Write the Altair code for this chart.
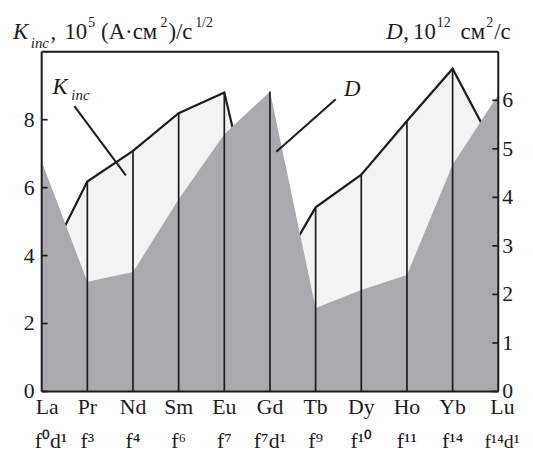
import altair as alt
import pandas as pd

# ---- data ----
elements = ["La", "Pr", "Nd", "Sm", "Eu", "Gd", "Tb", "Dy", "Ho", "Yb", "Lu"]
configs = ["f⁰d¹", "f³", "f⁴", "f⁶", "f⁷", "f⁷d¹", "f⁹", "f¹⁰", "f¹¹", "f¹⁴", "f¹⁴d¹"]
kinc = [3.5, 6.18, 7.08, 8.19, 8.80, 3.1, 5.42, 6.38, 7.96, 9.50, 6.97]   # 10^5 (A·см²)/с^1/2
diff = [4.74, 2.26, 2.46, 3.96, 5.30, 6.18, 1.72, 2.09, 2.40, 4.67, 6.12]  # 10^12 см²/с
left_ticks = [0, 2, 4, 6, 8]
right_ticks = [0, 1, 2, 3, 4, 5, 6]
LEFT_MAX, RIGHT_MAX = 10, 7

# annotation leader lines (data coordinates: index, left-axis value)
k_leader = {"x": [0.716], "y": [8.40], "x2": [1.844], "y2": [6.36]}
d_leader = {"x": [6.44], "y": [8.60], "x2": [5.14], "y2": [7.06]}

SERIF = "Liberation Serif"
INK = "#1c1c1c"
LIGHT = "#f3f3f3"
DARK = "#a9aaae"
W, H = 461, 343
R = LEFT_MAX / RIGHT_MAX

df = pd.DataFrame({"idx": list(range(len(elements))), "el": elements, "cfg": configs,
                   "kinc": kinc, "d": diff})

X = alt.Scale(domain=[0, 10], nice=False, zero=False)
Y = alt.Scale(domain=[0, LEFT_MAX], nice=False)
xenc = alt.X("idx:Q", scale=X, axis=None)

base = alt.Chart(df).transform_calculate(
    d_l=f"datum.d * {R}", top=f"max(datum.kinc, datum.d * {R})")

area_k = base.mark_area(color=LIGHT).encode(
    x=xenc, y=alt.Y("kinc:Q", scale=Y, axis=None))
line_k = base.mark_line(color=INK, strokeWidth=2.2).encode(
    x=xenc, y=alt.Y("kinc:Q", scale=Y, axis=None))
area_d = base.mark_area(color=DARK).encode(
    x=xenc, y=alt.Y("d_l:Q", scale=Y, axis=None))
rules = base.transform_filter("datum.idx > 0 && datum.idx < 10").mark_rule(
    color=INK, strokeWidth=1.7).encode(
    x=xenc, y=alt.Y("top:Q", scale=Y, axis=None), y2=alt.Y2Datum(0))

lt = alt.Chart(pd.DataFrame({"v": left_ticks}))
rt = alt.Chart(pd.DataFrame({"v": right_ticks})).transform_calculate(vl=f"datum.v * {R}")
ticks_l = lt.mark_rule(color=INK, strokeWidth=1.7).encode(
    y=alt.Y("v:Q", scale=Y, axis=None), x=alt.value(0), x2=alt.value(6))
labels_l = lt.mark_text(font=SERIF, fontSize=22, align="right", baseline="middle", color=INK,
                        dx=-7).encode(
    y=alt.Y("v:Q", scale=Y, axis=None), x=alt.value(0), text="v:N")
ticks_r = rt.mark_rule(color=INK, strokeWidth=1.7).encode(
    y=alt.Y("vl:Q", scale=Y, axis=None), x=alt.value(W - 6), x2=alt.value(W))
labels_r = rt.mark_text(font=SERIF, fontSize=22, align="left", baseline="middle", color=INK,
                        dx=4).encode(
    y=alt.Y("vl:Q", scale=Y, axis=None), x=alt.value(W), text="v:N")

one = pd.DataFrame({"a": [0]})
frame = [
    alt.Chart(one).mark_rule(color=INK, strokeWidth=2).encode(
        x=alt.value(0), x2=alt.value(W), y=alt.value(0)),
    alt.Chart(one).mark_rule(color=INK, strokeWidth=2).encode(
        x=alt.value(0), x2=alt.value(W), y=alt.value(H)),
    alt.Chart(one).mark_rule(color=INK, strokeWidth=2).encode(
        x=alt.value(0), y=alt.value(0), y2=alt.value(H)),
    alt.Chart(one).mark_rule(color=INK, strokeWidth=2).encode(
        x=alt.value(W), y=alt.value(0), y2=alt.value(H)),
    # invisible spacer that reserves room above the titles
    alt.Chart(one).mark_rule(color="white", strokeWidth=1, strokeOpacity=0).encode(
        x=alt.value(0), x2=alt.value(2), y=alt.value(-36.5)),
]

def lead(dct):
    return alt.Chart(pd.DataFrame(dct)).mark_rule(color=INK, strokeWidth=2).encode(
        x=alt.X("x:Q", scale=X, axis=None), y=alt.Y("y:Q", scale=Y, axis=None),
        x2="x2:Q", y2="y2:Q")

def dtext(s, xv, yv, size=23, italic=True):
    return alt.Chart(pd.DataFrame({"x": [xv], "y": [yv], "t": [s]})).mark_text(
        font=SERIF, fontSize=size, fontStyle="italic" if italic else "normal",
        align="left", baseline="alphabetic", color=INK).encode(
        x=alt.X("x:Q", scale=X, axis=None), y=alt.Y("y:Q", scale=Y, axis=None), text="t:N")

def ptext(s, xp, yp, size=23, italic=False):
    return alt.Chart(pd.DataFrame({"t": [s]})).mark_text(
        font=SERIF, fontSize=size, fontStyle="italic" if italic else "normal",
        align="left", baseline="alphabetic", color=INK).encode(
        x=alt.value(xp), y=alt.value(yp), text="t:N")

def xlabels(field, ypix, dx_first, dx_last, size_last=22):
    mid = base.transform_filter("datum.idx > 0 && datum.idx < 10").mark_text(
        font=SERIF, fontSize=22, align="center", baseline="alphabetic", color=INK).encode(
        x=xenc, y=alt.value(ypix), text=f"{field}:N")
    first = base.transform_filter("datum.idx == 0").mark_text(
        font=SERIF, fontSize=22, align="left", baseline="alphabetic", color=INK, dx=dx_first).encode(
        x=xenc, y=alt.value(ypix), text=f"{field}:N")
    last = base.transform_filter("datum.idx == 10").mark_text(
        font=SERIF, fontSize=size_last, align="left", baseline="alphabetic", color=INK,
        dx=dx_last).encode(
        x=xenc, y=alt.value(ypix), text=f"{field}:N")
    return [mid, first, last]

layers = [area_k, line_k, area_d, rules, ticks_l, labels_l, ticks_r, labels_r] + frame + [
          lead(k_leader), lead(d_leader),
          dtext("K", 0.239, 8.75), dtext("inc", 0.65, 8.57, size=15),
          dtext("D", 6.62, 8.69)]
layers += xlabels("el", H + 23, -6, -8)
layers += xlabels("cfg", H + 57, -7, -14, size_last=20)
# axis titles
layers += [
    ptext("K", -29, -13, italic=True), ptext("inc", -11, -4, size=15, italic=True),
    ptext(",", 9, -13), ptext("10", 23, -13), ptext("5", 47, -25, size=14),
    ptext("(A·см", 60, -13), ptext("2", 120, -25, size=14), ptext(")/с", 128, -13),
    ptext("1/2", 155, -25, size=14),
    ptext("D", 348, -13, italic=True), ptext(",", 365, -13), ptext("10", 375, -13),
    ptext("12", 399, -25, size=14), ptext("см", 423, -13), ptext("2", 449, -25, size=14),
    ptext("/с", 457, -13),
]

chart = alt.layer(*layers).properties(width=W, height=H)

chart.save("out.html", embed_options={"renderer": "svg", "actions": False})
